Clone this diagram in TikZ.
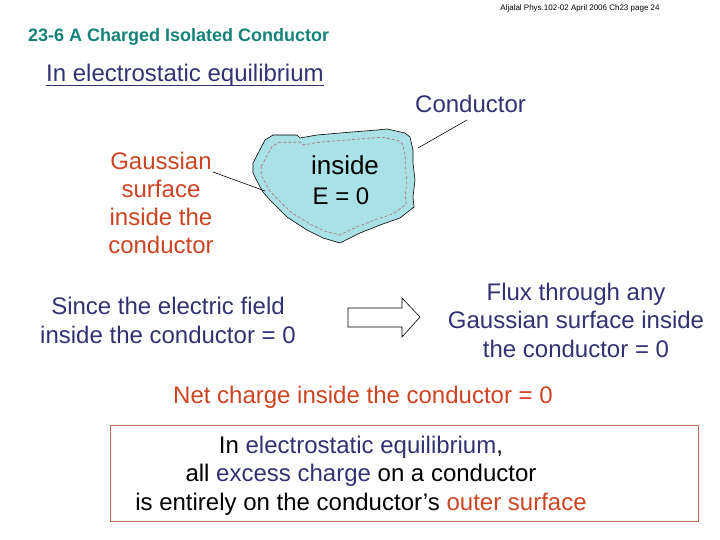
\documentclass[tikz,border=0pt]{standalone}
\usepackage{fontspec}
\setmainfont{Liberation Sans}
\usetikzlibrary{positioning}

\definecolor{navy}{RGB}{50,50,115}
\definecolor{rust}{RGB}{204,68,34}
\definecolor{titleteal}{RGB}{20,130,120}
\definecolor{metal}{RGB}{170,225,230}
\definecolor{boxedge}{RGB}{190,110,80}
\definecolor{gausscol}{RGB}{175,110,110}

\tikzset{
    txt/.style={inner sep=0pt, font=\fontsize{24}{28.3}\selectfont, align=center},
    lead/.style={black, line width=0.6pt},
}

% Umriss des Leiters (relativ zur Mitte)
\def\blob{(-82,-24) -- (-70,-47) -- (-62,-52) -- (-38,-52) -- (-35,-49) -- (-18,-52)
  -- (5,-54) -- (42,-57) -- (52,-58) -- (70,-54) -- (75,-50) -- (78,-37) -- (78,-24)
  -- (80,-7) -- (78,10) -- (79,20) -- (65,31) -- (45,38) -- (25,46) -- (5,56)
  -- (-12,51) -- (-28,43) -- (-48,30) -- (-65,13) -- (-72,5) -- (-77,-4) -- (-82,-14) -- cycle}

\begin{document}
\begin{tikzpicture}[x=1pt, y=-1pt]

  \useasboundingbox (0,0) rectangle (720,540);

  % Kopfzeile
  \node[inner sep=0pt, anchor=base, font=\fontsize{8}{9}\selectfont] (hdr) at (580,11)
    {Aljalal Phys.102-02 April 2006 Ch23 page 24};
  \node[inner sep=0pt, anchor=base west, text=titleteal, font=\fontsize{18}{20}\selectfont\bfseries] (title) at (28,42)
    {23-6 A Charged Isolated Conductor};
  \node[txt, anchor=base west, text=navy] (equil) at (46,82) {In electrostatic equilibrium};
  \draw[navy, line width=0.8pt] ([yshift=-3pt]equil.base west) -- ([yshift=-3pt]equil.base east);

  % Leiter mit Gaussflaeche
  \begin{scope}[shift={(335,187)}]
    \filldraw[fill=metal, draw=black, line width=0.6pt] \blob;
    \begin{scope}[xscale=0.9, yscale=0.86]
      \draw[gausscol, line width=0.6pt, dash pattern=on 3pt off 2pt] \blob;
    \end{scope}
  \end{scope}
  \node[txt, anchor=base, font=\fontsize{26}{30}\selectfont] (inside) at (345,175) {inside};
  \node[txt, anchor=base] (efield) at (341,205) {E = 0};

  % Beschriftungen
  \node[txt, anchor=base west, text=navy] (cond) at (415,113) {Conductor};
  \node[txt, anchor=base, text=rust] (gauss) at (161,254) {Gaussian\\surface\\inside the\\conductor};

  \coordinate (gfoot) at (213,172);
  \coordinate (gtip) at (265,191);
  \coordinate (cfoot) at (467,120);
  \coordinate (ctip) at (418,148);
  \draw[lead] (gfoot) -- (gtip);
  \draw[lead] (cfoot) -- (ctip);

  % Folgerung
  \node[txt, anchor=base, text=navy] (since) at (168,343) {Since the electric field\\inside the conductor = 0};
  \draw[line width=0.6pt, fill=white]
    (348,308) -- (402,308) -- (402,298) -- (420,317) -- (402,337) -- (402,327) -- (348,327) -- cycle;
  \node[txt, anchor=base, text=navy] (flux) at (576,357) {Flux through any\\Gaussian surface inside\\the conductor = 0};

  \node[txt, anchor=base, text=rust] (net) at (363,403) {Net charge inside the conductor = 0};

  % Kasten unten
  \draw[boxedge, line width=0.8pt] (110,425) rectangle (698,521);
  \node[txt, anchor=base] (summary) at (361,510)
    {In \textcolor{navy}{electrostatic equilibrium},\\
     all \textcolor{navy}{excess charge} on a conductor\\
     is entirely on the conductor’s \textcolor{rust}{outer surface}};

\end{tikzpicture}
\end{document}
